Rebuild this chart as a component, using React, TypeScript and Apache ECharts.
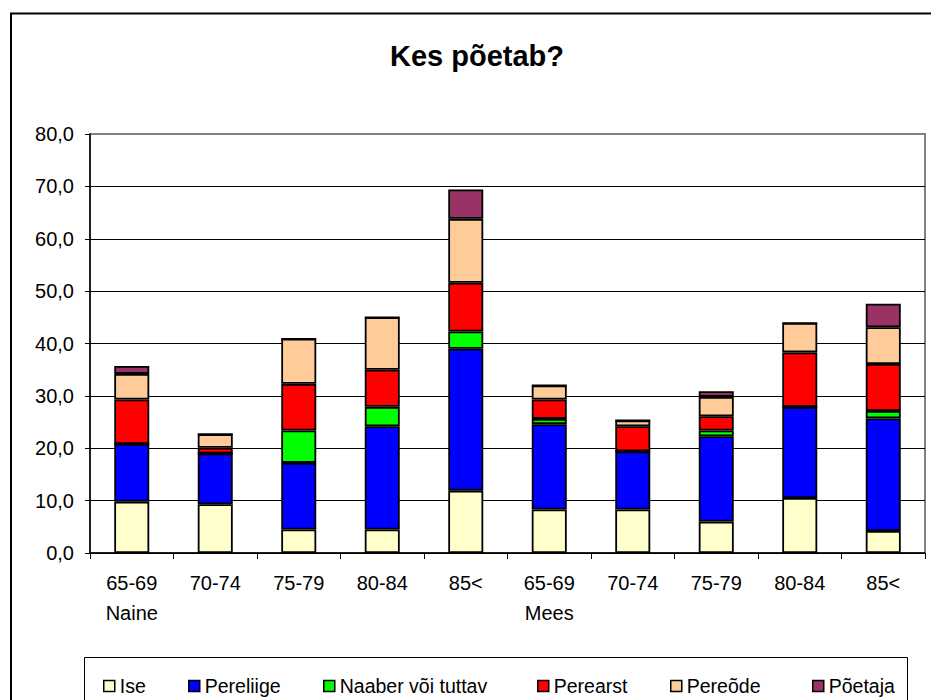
import React, { useEffect, useRef } from "react";
import * as echarts from "echarts";

const ageGroups = ["65-69", "70-74", "75-79", "80-84", "85<", "65-69", "70-74", "75-79", "80-84", "85<"];
const sexLabels = ["Naine", "", "", "", "", "Mees", "", "", "", ""];
const seriesNames = ["Ise", "Pereliige", "Naaber või tuttav", "Perearst", "Pereõde", "Põetaja"];
const ise = [9.8, 9.3, 4.5, 4.5, 11.9, 8.3, 8.3, 6.0, 10.5, 4.2];
const pereliige = [11.0, 9.7, 12.7, 19.7, 27.1, 16.3, 11.1, 16.3, 17.4, 21.5];
const naaber = [0, 0, 6.2, 3.7, 3.3, 1.0, 0, 1.1, 0, 1.4];
const perearst = [8.5, 1.1, 8.9, 7.1, 9.3, 3.7, 4.8, 2.7, 10.4, 9.0];
const pereode = [4.9, 2.6, 8.6, 10.0, 12.2, 2.7, 1.1, 3.7, 5.6, 7.0];
const poetaja = [1.5, 0, 0, 0, 5.6, 0, 0, 1.1, 0, 4.5];
const seriesData = [ise, pereliige, naaber, perearst, pereode, poetaja];
const colors = ["#FFFFCC", "#0000FF", "#00FF00", "#FF0000", "#FFCC99", "#993366"];
const legendLefts = [103, 188, 323, 537, 670, 812];

const FONT = "'Liberation Sans', Arial, Helvetica, sans-serif";

export default function App() {
  const ref = useRef<HTMLDivElement>(null);
  useEffect(() => {
    document.body.style.margin = "0";
    document.body.style.overflow = "hidden";
    const chart = echarts.init(ref.current!, null, { renderer: "svg" });
    const categories = ageGroups.map((a, i) => (sexLabels[i] ? a + "\n" + sexLabels[i] : a));
    chart.setOption({
      animation: false,
      backgroundColor: "#fff",
      textStyle: { fontFamily: FONT },
      title: {
        text: "Kes põetab?",
        left: 390,
        top: 41,
        padding: 0,
        textStyle: { fontSize: 29, fontWeight: "bold", color: "#000", fontFamily: FONT },
      },
      graphic: [
        {
          type: "rect",
          z: -10,
          shape: { x: 11, y: 13.5, width: 1000, height: 1000 },
          style: { fill: "none", stroke: "#000", lineWidth: 2 },
        },
        {
          type: "rect",
          z: -10,
          shape: { x: 84.5, y: 657.5, width: 823, height: 100 },
          style: { fill: "none", stroke: "#000", lineWidth: 1 },
        },
      ],
      legend: seriesNames.map((n, i) => ({
        data: [{ name: n, itemStyle: { color: colors[i], borderColor: "#000", borderWidth: 1.5 } }],
        left: legendLefts[i],
        top: 676,
        padding: 0,
        itemWidth: 11,
        itemHeight: 11,
        itemGap: 0,
        selectedMode: false,
        icon: "rect",
        itemStyle: { borderColor: "#000", borderWidth: 1.5 },
        textStyle: { fontSize: 19.5, color: "#000", fontFamily: FONT, padding: [0, 0, 0, 0] },
      })),
      grid: {
        left: 90,
        right: 6,
        top: 134,
        bottom: 147,
        show: true,
        borderColor: "#808080",
        borderWidth: 2,
        backgroundColor: "transparent",
      },
      xAxis: {
        type: "category",
        data: categories,
        boundaryGap: true,
        axisLine: { show: true, lineStyle: { color: "#000", width: 1.5 } },
        axisTick: { show: true, alignWithLabel: false, length: 6, lineStyle: { color: "#000", width: 1 } },
        axisLabel: {
          color: "#000",
          fontSize: 20,
          fontFamily: FONT,
          lineHeight: 30,
          margin: 15,
          interval: 0,
          verticalAlign: "top",
        },
      },
      yAxis: {
        type: "value",
        min: 0,
        max: 80,
        interval: 10,
        axisLine: { show: true, lineStyle: { color: "#000", width: 1.5 } },
        axisTick: { show: true, length: 5, lineStyle: { color: "#000", width: 1 } },
        axisLabel: {
          color: "#000",
          fontSize: 20,
          fontFamily: FONT,
          margin: 16,
          formatter: (v: number) => v.toFixed(1).replace(".", ","),
        },
        splitLine: { show: true, showMaxLine: false, lineStyle: { color: "#000", width: 1 } },
      },
      series: seriesNames.map((n, i) => ({
        name: n,
        type: "bar",
        stack: "total",
        barWidth: 35,
        data: seriesData[i],
        itemStyle: { color: colors[i], borderColor: "#000", borderWidth: 1.8 },
      })),
    });
    return () => chart.dispose();
  }, []);
  return <div ref={ref} style={{ width: 931, height: 700 }} />;
}
